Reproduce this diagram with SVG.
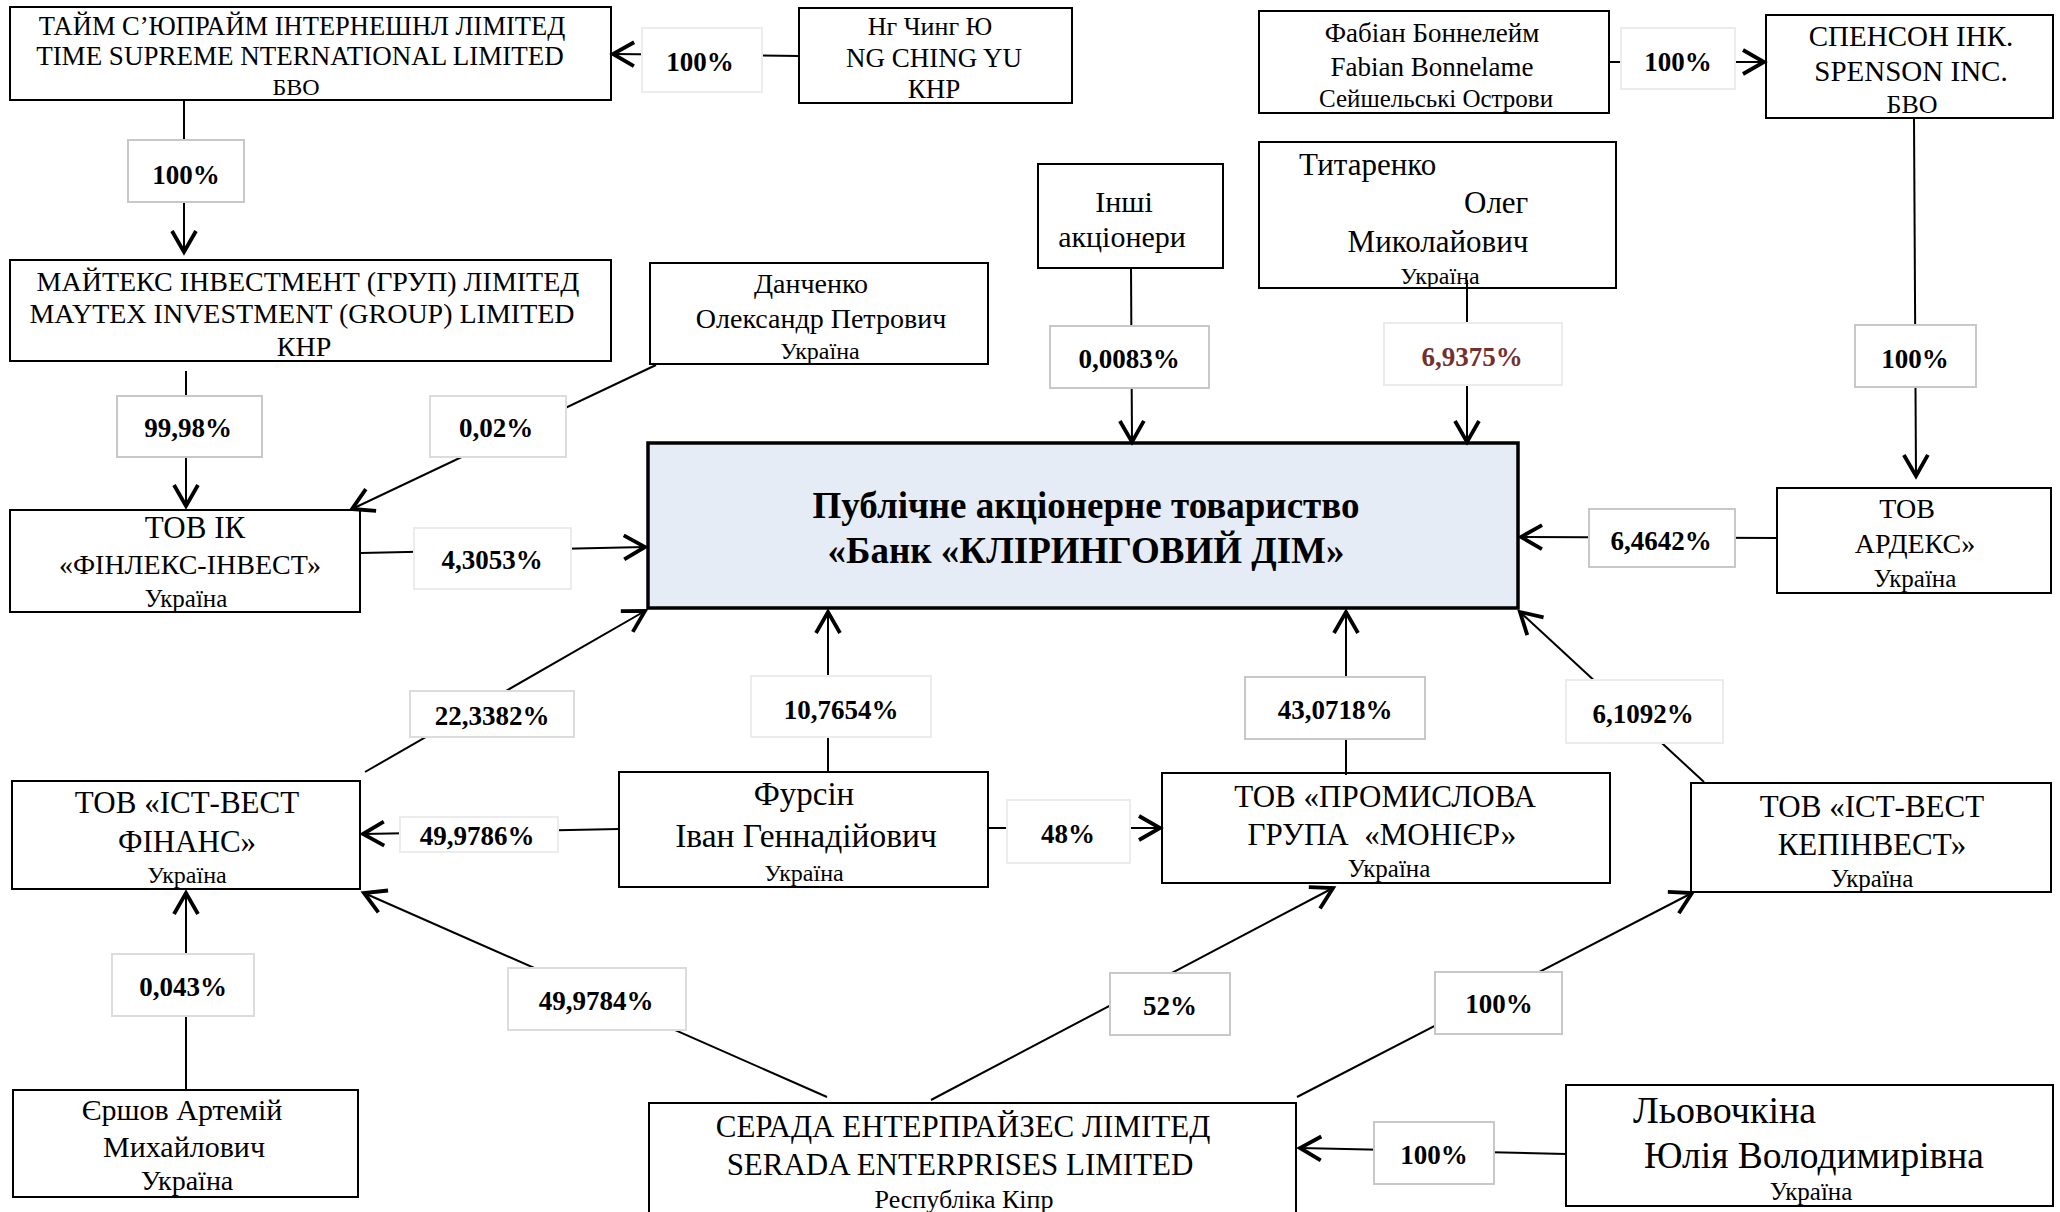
<svg xmlns="http://www.w3.org/2000/svg" width="2060" height="1212" viewBox="0 0 2060 1212">
<defs>
<style>
.box{fill:#fff;stroke:#000;stroke-width:2}
.bank{fill:#E5ECF6;stroke:#000;stroke-width:3.5}
text{font-family:"Liberation Serif","Times New Roman",serif;fill:#000}
.c{text-anchor:middle}
.lab{fill:#fff;stroke:#c8c8c8;stroke-width:2}
.lab2{fill:#fff;stroke:#ececec;stroke-width:2}
.lt{font-weight:bold;font-size:27px;text-anchor:middle;dominant-baseline:central}
.ln{stroke:#000;stroke-width:2;fill:none;marker-end:url(#ah)}
.bt{font-weight:bold;font-size:37px;text-anchor:middle}
</style>
<marker id="ah" viewBox="-28 -16 34 32" refX="0" refY="0" markerWidth="34" markerHeight="32" markerUnits="userSpaceOnUse" orient="auto">
<path d="M-21,-12 L0,0 L-21,12" fill="none" stroke="#000" stroke-width="3.8"/>
</marker>
</defs>
<rect width="2060" height="1212" fill="#fff"/>

<g id="n-time">
<rect class="box" x="10" y="7" width="601" height="93"/>
<text class="c" x="302" y="35" font-size="26.5">ТАЙМ С’ЮПРАЙМ ІНТЕРНЕШНЛ ЛІМІТЕД</text>
<text class="c" x="300" y="65" font-size="27">TIME SUPREME NTERNATIONAL LIMITED</text>
<text class="c" x="296" y="95" font-size="24">БВО</text>
</g>
<g id="n-ng">
<rect class="box" x="799" y="8" width="273" height="95"/>
<text class="c" x="930" y="35" font-size="26">Нг Чинг Ю</text>
<text class="c" x="934" y="67" font-size="27">NG CHING YU</text>
<text class="c" x="934" y="98" font-size="27">КНР</text>
</g>
<g id="n-fabian">
<rect class="box" x="1259" y="11" width="350" height="102"/>
<text class="c" x="1432" y="42" font-size="27">Фабіан Боннелейм</text>
<text class="c" x="1432" y="76" font-size="27">Fabian Bonnelame</text>
<text class="c" x="1436" y="107" font-size="25">Сейшельські Острови</text>
</g>
<g id="n-spenson">
<rect class="box" x="1766" y="15" width="287" height="103"/>
<text class="c" x="1911" y="46" font-size="29">СПЕНСОН ІНК.</text>
<text class="c" x="1911" y="81" font-size="29">SPENSON INC.</text>
<text class="c" x="1912" y="113" font-size="26">БВО</text>
</g>
<g id="n-inshi">
<rect class="box" x="1038" y="164" width="185" height="104"/>
<text class="c" x="1124" y="212" font-size="30">Інші</text>
<text class="c" x="1122" y="247" font-size="30">акціонери</text>
</g>
<g id="n-titarenko">
<rect class="box" x="1259" y="142" width="357" height="146"/>
<text x="1299" y="175" font-size="31">Титаренко</text>
<text x="1464" y="213" font-size="31">Олег</text>
<text class="c" x="1438" y="252" font-size="31">Миколайович</text>
<text class="c" x="1440" y="284" font-size="24">Україна</text>
</g>
<g id="n-maytex">
<rect class="box" x="10" y="260" width="601" height="101"/>
<text class="c" x="308" y="291" font-size="28">МАЙТЕКС ІНВЕСТМЕНТ (ГРУП) ЛІМІТЕД</text>
<text class="c" x="302" y="323" font-size="28">MAYTEX INVESTMENT (GROUP) LIMITED</text>
<text class="c" x="304" y="356" font-size="28">КНР</text>
</g>
<g id="n-danchenko">
<rect class="box" x="650" y="263" width="338" height="101"/>
<text class="c" x="811" y="293" font-size="28">Данченко</text>
<text class="c" x="821" y="328" font-size="28">Олександр Петрович</text>
<text class="c" x="820" y="359" font-size="24">Україна</text>
</g>
<g id="n-finlex">
<rect class="box" x="10" y="510" width="350" height="102"/>
<text class="c" x="195" y="538" font-size="31">ТОВ ІК</text>
<text class="c" x="190" y="574" font-size="28">«ФІНЛЕКС-ІНВЕСТ»</text>
<text class="c" x="186" y="607" font-size="25">Україна</text>
</g>
<g id="n-bank">
<rect class="bank" x="648" y="443" width="870" height="165"/>
<text class="bt" x="1086" y="518">Публічне акціонерне товариство</text>
<text class="bt" x="1086" y="563">«Банк «КЛІРИНГОВИЙ ДІМ»</text>
</g>
<g id="n-ardex">
<rect class="box" x="1777" y="488" width="274" height="105"/>
<text class="c" x="1907" y="518" font-size="28">ТОВ</text>
<text class="c" x="1915" y="553" font-size="28">АРДЕКС»</text>
<text class="c" x="1915" y="587" font-size="25">Україна</text>
</g>
<g id="n-eastwest-fin">
<rect class="box" x="12" y="781" width="348" height="108"/>
<text class="c" x="187" y="813" font-size="31">ТОВ «ІСТ-ВЕСТ</text>
<text class="c" x="187" y="852" font-size="31">ФІНАНС»</text>
<text class="c" x="187" y="883" font-size="24">Україна</text>
</g>
<g id="n-fursin">
<rect class="box" x="619" y="772" width="369" height="115"/>
<text class="c" x="804" y="805" font-size="33">Фурсін</text>
<text class="c" x="806" y="847" font-size="33.5">Іван Геннадійович</text>
<text class="c" x="804" y="881" font-size="24">Україна</text>
</g>
<g id="n-monier">
<rect class="box" x="1162" y="773" width="448" height="110"/>
<text class="c" x="1385" y="807" font-size="31">ТОВ «ПРОМИСЛОВА</text>
<text class="c" x="1382" y="845" font-size="31" xml:space="preserve">ГРУПА  «МОНІЄР»</text>
<text class="c" x="1389" y="877" font-size="25">Україна</text>
</g>
<g id="n-eastwest-cap">
<rect class="box" x="1691" y="783" width="360" height="109"/>
<text class="c" x="1872" y="817" font-size="31">ТОВ «ІСТ-ВЕСТ</text>
<text class="c" x="1872" y="855" font-size="31">КЕПІНВЕСТ»</text>
<text class="c" x="1872" y="887" font-size="25">Україна</text>
</g>
<g id="n-ershov">
<rect class="box" x="13" y="1090" width="345" height="107"/>
<text class="c" x="182" y="1120" font-size="30">Єршов Артемій</text>
<text class="c" x="184" y="1157" font-size="30">Михайлович</text>
<text class="c" x="187" y="1190" font-size="28">Україна</text>
</g>
<g id="n-serada">
<rect class="box" x="649" y="1103" width="647" height="130"/>
<text class="c" x="963" y="1137" font-size="31">СЕРАДА ЕНТЕРПРАЙЗЕС ЛІМІТЕД</text>
<text class="c" x="960" y="1175" font-size="31">SERADA ENTERPRISES LIMITED</text>
<text class="c" x="964" y="1208" font-size="26">Республіка Кіпр</text>
</g>
<g id="n-lovochkina">
<rect class="box" x="1566" y="1085" width="487" height="121"/>
<text x="1633" y="1123" font-size="38">Льовочкіна</text>
<text x="1644" y="1168" font-size="37.5">Юлія Володимирівна</text>
<text class="c" x="1811" y="1200" font-size="25">Україна</text>
</g>

<g id="connectors">
<g id="c-ng-time"><line class="ln" x1="799" y1="56" x2="613" y2="54"/><rect class="lab2" x="642" y="28" width="120" height="64"/><text class="lt" x="700" y="62">100%</text></g>
<g id="c-time-maytex"><line class="ln" x1="184" y1="100" x2="184" y2="252"/><rect class="lab" x="128" y="140" width="116" height="62"/><text class="lt" x="186" y="175">100%</text></g>
<g id="c-fabian-spenson"><line class="ln" x1="1609" y1="62" x2="1764" y2="62"/><rect class="lab2" x="1621" y="28" width="114" height="61"/><text class="lt" x="1678" y="62">100%</text></g>
<g id="c-spenson-ardex"><line class="ln" x1="1914" y1="118" x2="1916" y2="476"/><rect class="lab" x="1855" y="325" width="121" height="62"/><text class="lt" x="1915" y="359">100%</text></g>
<g id="c-inshi-bank"><line class="ln" x1="1131" y1="268" x2="1132" y2="442"/><rect class="lab" x="1050" y="326" width="159" height="62"/><text class="lt" x="1129" y="359">0,0083%</text></g>
<g id="c-titarenko-bank"><line class="ln" x1="1467" y1="280" x2="1467" y2="442"/><rect class="lab2" x="1384" y="323" width="178" height="62"/><text class="lt" x="1472" y="357" font-size="29" style="fill:#743030">6,9375%</text></g>
<g id="c-maytex-finlex"><line class="ln" x1="186" y1="371" x2="186" y2="506"/><rect class="lab" x="117" y="396" width="145" height="61"/><text class="lt" x="188" y="428">99,98%</text></g>
<g id="c-danchenko-finlex"><line class="ln" x1="656" y1="365" x2="352" y2="509"/><rect class="lab" x="430" y="396" width="136" height="61" style="stroke:#dcdcdc"/><text class="lt" x="496" y="428">0,02%</text></g>
<g id="c-finlex-bank"><line class="ln" x1="361" y1="553" x2="645" y2="547"/><rect class="lab2" x="414" y="528" width="157" height="61"/><text class="lt" x="492" y="560">4,3053%</text></g>
<g id="c-ardex-bank"><line class="ln" x1="1777" y1="538" x2="1521" y2="537"/><rect class="lab" x="1589" y="509" width="146" height="58"/><text class="lt" x="1661" y="541">6,4642%</text></g>
<g id="c-ewfin-bank"><line class="ln" x1="365" y1="772" x2="645" y2="611"/><rect class="lab" x="410" y="691" width="164" height="46" style="stroke:#dcdcdc"/><text class="lt" x="492" y="716">22,3382%</text></g>
<g id="c-fursin-bank"><line class="ln" x1="828" y1="772" x2="828" y2="612"/><rect class="lab2" x="751" y="676" width="180" height="61"/><text class="lt" x="841" y="710">10,7654%</text></g>
<g id="c-fursin-ewfin"><line class="ln" x1="619" y1="829" x2="363" y2="834"/><rect class="lab2" x="400" y="817" width="158" height="35"/><text class="lt" x="477" y="836">49,9786%</text></g>
<g id="c-fursin-monier"><line class="ln" x1="988" y1="828" x2="1160" y2="828"/><rect class="lab2" x="1007" y="800" width="123" height="63"/><text class="lt" x="1068" y="834">48%</text></g>
<g id="c-monier-bank"><line class="ln" x1="1346" y1="775" x2="1346" y2="612"/><rect class="lab" x="1245" y="677" width="180" height="62"/><text class="lt" x="1335" y="710">43,0718%</text></g>
<g id="c-ewcap-bank"><line class="ln" x1="1704" y1="782" x2="1520" y2="612"/><rect class="lab2" x="1566" y="680" width="157" height="63"/><text class="lt" x="1643" y="714">6,1092%</text></g>
<g id="c-ershov-ewfin"><line class="ln" x1="186" y1="1089" x2="186" y2="893"/><rect class="lab" x="112" y="954" width="142" height="62" style="stroke:#dcdcdc"/><text class="lt" x="183" y="987">0,043%</text></g>
<g id="c-serada-ewfin"><line class="ln" x1="827" y1="1097" x2="364" y2="893"/><rect class="lab" x="508" y="968" width="178" height="62" style="stroke:#dcdcdc"/><text class="lt" x="596" y="1001">49,9784%</text></g>
<g id="c-serada-monier"><line class="ln" x1="931" y1="1100" x2="1333" y2="888"/><rect class="lab" x="1110" y="973" width="120" height="62"/><text class="lt" x="1170" y="1006">52%</text></g>
<g id="c-serada-ewcap"><line class="ln" x1="1297" y1="1097" x2="1692" y2="893"/><rect class="lab" x="1435" y="972" width="127" height="62"/><text class="lt" x="1499" y="1004">100%</text></g>
<g id="c-lovochkina-serada"><line class="ln" x1="1566" y1="1154" x2="1300" y2="1148"/><rect class="lab" x="1374" y="1122" width="120" height="62"/><text class="lt" x="1434" y="1155">100%</text></g>
</g>
</svg>
